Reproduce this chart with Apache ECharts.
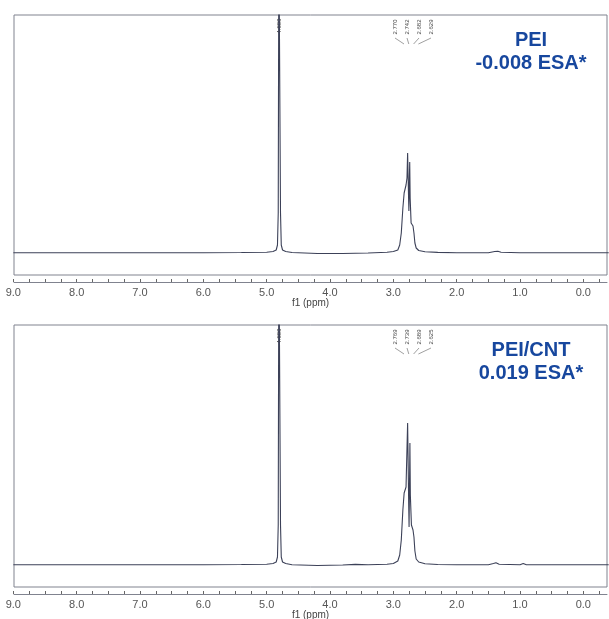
<!DOCTYPE html>
<html>
<head>
<meta charset="utf-8">
<script src="https://cdn.jsdelivr.net/npm/echarts@6/dist/echarts.min.js"></script>
<style>
  html, body { margin: 0; padding: 0; background: #fff; }
  #chart { width: 609px; height: 619px; }
</style>
</head>
<body>
<div id="chart"></div>
<script>
// spectra: [ppm, intensity above baseline]
const specPEI = [
  [9.0, 0.3], [8.0, 0.3], [7.0, 0.2], [6.0, 0.3], [5.4, 0.5], [5.0, 0.8], [4.9, 1.5],
  [4.85, 3], [4.83, 8], [4.818, 40], [4.808, 320], [4.792, 320], [4.782, 40],
  [4.77, 8], [4.75, 3], [4.7, 1.5], [4.6, 0.5], [4.2, -0.5], [3.8, -0.5], [3.4, 0],
  [3.1, 0.8], [3.0, 1.5], [2.93, 3], [2.90, 8], [2.875, 20], [2.85, 45], [2.83, 60],
  [2.80, 68], [2.785, 75], [2.775, 100], [2.768, 100], [2.76, 55], [2.755, 42],
  [2.748, 70], [2.742, 91], [2.735, 55], [2.72, 30], [2.69, 27], [2.675, 20],
  [2.66, 10], [2.64, 5], [2.6, 2.5], [2.5, 1.2], [2.3, 0.6], [2.0, 0.3], [1.5, 0.3],
  [1.4, 1.5], [1.35, 1.8], [1.3, 0.8], [1.0, 0.3], [0.5, 0.2], [0, 0.3], [-0.4, 0.3]
];
const specCNT = [
  [9.0, 0.3], [8.0, 0.3], [7.0, 0.2], [6.0, 0.3], [5.4, 0.5], [5.0, 0.8], [4.9, 1.5],
  [4.85, 3], [4.83, 8], [4.818, 40], [4.808, 330], [4.792, 330], [4.782, 40],
  [4.77, 8], [4.75, 3], [4.7, 1.5], [4.6, 0.3], [4.2, -0.5], [3.8, 0], [3.6, 0.6],
  [3.4, 0.3], [3.1, 0.8], [3.0, 1.5], [2.93, 4], [2.90, 10], [2.875, 25], [2.85, 55],
  [2.83, 72], [2.80, 78], [2.785, 80], [2.775, 142], [2.766, 142], [2.758, 60],
  [2.752, 38], [2.745, 80], [2.739, 122], [2.732, 70], [2.715, 40], [2.69, 35],
  [2.675, 28], [2.66, 14], [2.64, 6], [2.6, 3], [2.5, 1.2], [2.3, 0.5], [2.0, 0.2],
  [1.5, 0.3], [1.42, 1.5], [1.38, 2.2], [1.33, 0.8], [1.0, 0.3], [0.95, 1.5],
  [0.9, 0.3], [0.5, 0.2], [-0.4, 0.3]
];
const peaksPEI = ['2.770', '2.742', '2.682', '2.629'];
const peaksCNT = ['2.769', '2.739', '2.689', '2.625'];
const singlet = '4.800';
const titlesPEI = ['PEI', '-0.008 ESA*'];
const titlesCNT = ['PEI/CNT', '0.019 ESA*'];

const X_MIN = -0.373, X_MAX = 8.99;      // frame extent
const T_MIN = -0.5, T_MAX = 9.25;        // tick axis extent (multiples of 0.25)

const lineCol = '#3c4158';
const frameCol = '#80838f';
const blue = '#17479e';

const chart = echarts.init(document.getElementById('chart'));

function panel(top, base, bottom) {
  // top: frame top px, base: baseline px, bottom: frame bottom px
  return { top: top, height: bottom - top, ymin: -(bottom - base), ymax: base - top };
}
const P = [panel(15, 253, 275), panel(325, 565, 587)];

const grids = [], xAxes = [], yAxes = [], series = [];
P.forEach((p, i) => {
  grids.push({ left: 14, right: 2, top: p.top, height: p.height, show: true,
    borderColor: frameCol, borderWidth: 1, backgroundColor: 'transparent',
    outerBoundsMode: 'none', containLabel: false });
  grids.push({ left: -2.5, right: -6, top: p.top, height: p.height, show: false,
    outerBoundsMode: 'none', containLabel: false });
  xAxes.push({
    gridIndex: 2 * i, type: 'value', inverse: true, min: X_MIN, max: X_MAX,
    position: 'bottom', offset: 7,
    axisLine: { show: true, onZero: false, lineStyle: { color: frameCol, width: 1 } },
    axisTick: { show: false }, axisLabel: { show: false }, splitLine: { show: false },
    name: 'f1 (ppm)', nameLocation: 'middle', nameGap: 16,
    nameTextStyle: { color: '#444', fontSize: 10, fontFamily: 'Liberation Sans' }
  });
  xAxes.push({
    gridIndex: 2 * i + 1, type: 'value', inverse: true, min: T_MIN, max: T_MAX,
    interval: 0.25, position: 'bottom', offset: 7,
    axisLine: { show: false, onZero: false },
    axisTick: { show: true, inside: true, length: 3, lineStyle: { color: '#666' } },
    axisLabel: {
      show: true, margin: 5, color: '#555', fontSize: 11, fontFamily: 'Liberation Sans',
      formatter: v => (Math.abs(v - Math.round(v)) < 1e-6 ? Math.round(v).toFixed(1) : '')
    },
    splitLine: { show: false }
  });
  yAxes.push({ gridIndex: 2 * i, type: 'value', min: p.ymin, max: p.ymax, show: false });
  yAxes.push({ gridIndex: 2 * i + 1, type: 'value', min: 0, max: 1, show: false });
  series.push({
    type: 'line', xAxisIndex: 2 * i, yAxisIndex: 2 * i,
    data: i === 0 ? specPEI : specCNT, showSymbol: false, clip: true,
    lineStyle: { color: lineCol, width: 1.1 }, silent: true
  });
});

// peak annotations and sample labels
const graphic = [];
[[peaksPEI, titlesPEI, 0], [peaksCNT, titlesCNT, 310]].forEach(([pk, tt, dy]) => {
  const xs = [395, 407, 419, 431];
  pk.forEach((t, j) => {
    graphic.push({ type: 'text', x: xs[j], y: 27 + dy, rotation: Math.PI / 2,
      style: { text: t, fill: '#444', fontSize: 6, fontFamily: 'Liberation Sans',
        align: 'center', verticalAlign: 'middle' } });
    graphic.push({ type: 'polyline', shape: { points: [[xs[j], 38 + dy], [xs[j] + (410 - xs[j]) * 0.6, 44 + dy]] },
      style: { stroke: '#777', lineWidth: 0.7, fill: null } });
  });
  graphic.push({ type: 'text', x: 279, y: 26 + dy, rotation: Math.PI / 2,
    style: { text: singlet, fill: '#444', fontSize: 6, fontFamily: 'Liberation Sans',
      align: 'center', verticalAlign: 'middle' } });
  graphic.push({ type: 'text', x: 531, y: 40 + dy,
    style: { text: tt[0], fill: blue, fontSize: 20, fontWeight: 'bold',
      fontFamily: 'Liberation Sans', align: 'center', verticalAlign: 'middle' } });
  graphic.push({ type: 'text', x: 531, y: 63 + dy,
    style: { text: tt[1], fill: blue, fontSize: 20, fontWeight: 'bold',
      fontFamily: 'Liberation Sans', align: 'center', verticalAlign: 'middle' } });
});

chart.setOption({
  animation: false,
  backgroundColor: '#fff',
  grid: grids,
  xAxis: xAxes,
  yAxis: yAxes,
  series: series,
  graphic: graphic
});
</script>
</body>
</html>
